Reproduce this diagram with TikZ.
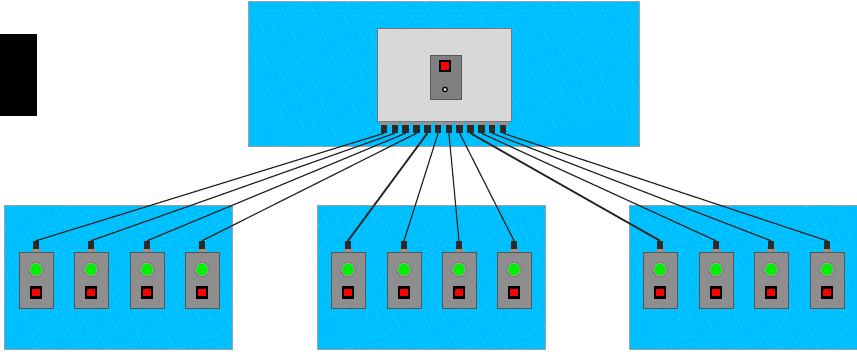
\documentclass[tikz,border=0pt]{standalone}
\definecolor{sky}{HTML}{00BFFF}
\definecolor{skydot}{HTML}{66E0FF}
\definecolor{edgegray}{HTML}{A0A0A0}
\definecolor{panelgray}{HTML}{D8D8D8}
\definecolor{boxgray}{HTML}{8E8E8E}
\definecolor{topboxgray}{HTML}{808080}
\definecolor{darkedge}{HTML}{555555}
\definecolor{portblack}{HTML}{2A2A2A}
\definecolor{lamp}{HTML}{00F000}
\tikzset{
  base/.style={inner sep=0pt,outer sep=0pt,anchor=center},
  field/.style={base,fill=sky,draw=edgegray,line width=1pt},
  panel/.style={base,fill=panelgray,draw=darkedge!80,line width=1pt,minimum width=134pt,minimum height=93pt},
  unitbox/.style={base,fill=boxgray,draw=darkedge,line width=1pt,minimum width=34pt,minimum height=56pt},
  topbox/.style={base,fill=topboxgray,draw=darkedge,line width=1pt,minimum width=31pt,minimum height=44pt},
  redbtn/.style={base,fill=red,draw=black,line width=2.2pt,minimum size=10pt},
  greenlamp/.style={base,circle,fill=lamp,minimum size=11.5pt},
  lampring/.style={base,circle,fill=gray!70,draw=darkedge,line width=0.8pt,densely dotted,minimum size=14.5pt},
  smallhole/.style={base,circle,fill=gray!30,draw=black,line width=1.2pt,minimum size=4.5pt},
  port/.style={base,fill=portblack,minimum width=6.5pt,minimum height=8.5pt},
  stem/.style={base,fill=gray!85,minimum width=9pt,minimum height=4pt},
  wire/.style={draw=black!85,line width=1.2pt},
  heavywire/.style={draw=black!85,line width=1.8pt},
  dotmark/.style={fill=skydot}
}
\newcommand{\fielddots}[4]{%
  \begin{scope}
  \clip (#1,#2) rectangle (#3,#4);
  \foreach \i in {0,...,44}{\foreach \j in {0,...,26}{
    \pgfmathsetmacro{\dx}{#1-20+\i*9+\j*2.5}
    \pgfmathsetmacro{\dy}{#2+4+\j*6-\i*1.6+12}
    \fill[dotmark] (\dx,\dy) circle (0.5pt);
  }}
  \end{scope}}
\begin{document}
\begin{tikzpicture}[x=1pt,y=-1pt]
\useasboundingbox (0,0) rectangle (857,351);
% fields
\node[field,minimum width=391pt,minimum height=145pt] (fieldT) at (443.5,73.5) {};
\node[field,minimum width=228pt,minimum height=144pt] (fieldA) at (118,277) {};
\node[field,minimum width=228pt,minimum height=144pt] (fieldB) at (431,277) {};
\node[field,minimum width=228pt,minimum height=144pt] (fieldC) at (743,277) {};
\fielddots{249}{2}{639}{146}
\fielddots{5}{206}{232}{349}
\fielddots{318}{206}{545}{349}
\fielddots{630}{206}{856}{349}
% black block
\node[base,fill=black,minimum width=37pt,minimum height=82pt] (block) at (18.5,75) {};
% top panel
\foreach \n/\x in {1/384,2/394.8,3/405.6,4/416.5,5/427.3,6/438.1,7/448.9,8/459.7,9/470.5,10/481.4,11/492.2,12/503}{
  \node[stem] (ts\n) at (\x,123.5) {};
  \node[port] (tp\n) at (\x,129) {};
}
\node[panel] (main) at (444,74.5) {};
\node[topbox] (ctrl) at (445.5,77) {};
\node[redbtn] (ctrlbtn) at (445,66) {};
\node[smallhole] (ctrlhole) at (445,89.5) {};
% bottom units
\foreach \n/\x in {1/36,2/91,3/147,4/202,5/348,6/404,7/459,8/514,9/660,10/716,11/771,12/827}{
  \node[stem] (bs\n) at (\x,250.5) {};
  \node[port] (bp\n) at (\x,245) {};
  \node[unitbox] (ub\n) at (\x,280) {};
  \node[lampring] (lr\n) at (\x,269.5) {};
  \node[greenlamp] (gl\n) at (\x,269.5) {};
  \node[redbtn] (rb\n) at (\x,292.5) {};
}
% wires
\foreach \n in {1,2,3,4,6,7,8,10,11,12}{
  \draw[wire] (tp\n.south) -- (bp\n.north);
}
\foreach \n in {5,9}{
  \draw[heavywire] (tp\n.south) -- (bp\n.north);
}
\end{tikzpicture}
\end{document}
